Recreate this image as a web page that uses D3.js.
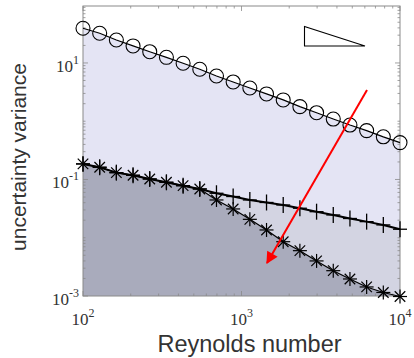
<!DOCTYPE html>
<html>
<head>
<meta charset="utf-8">
<script src="https://cdn.jsdelivr.net/npm/d3@7"></script>
<style>
  body { margin: 0; background: #fff; }
  svg { display: block; }
</style>
</head>
<body>
<div id="chart"></div>
<script>
// Reynolds numbers: 20 log-spaced samples between 1e2 and 1e4
const reynolds = d3.range(20).map(i => Math.pow(10, 2 + i * 2 / 19));

// Values
const circleVals = [39.4, 32.4, 24.8, 19.6, 15.6, 12.5, 9.9, 7.8, 5.98, 4.72,
  3.72, 2.94, 2.32, 1.78, 1.40, 1.09, 0.86, 0.69, 0.54, 0.43];
const plusVals = [0.185, 0.162, 0.131, 0.118, 0.102, 0.0895, 0.0783, 0.0687, 0.058, 0.051,
  0.0445, 0.0403, 0.0365, 0.0321, 0.028, 0.0246, 0.0214, 0.0189, 0.0166, 0.014];
const starVals = [0.185, 0.162, 0.131, 0.118, 0.102, 0.0895, 0.0783, 0.0687, 0.0445, 0.0312,
  0.0207, 0.0136, 0.00855, 0.0060, 0.0040, 0.00272, 0.00196, 0.00143, 0.00115, 0.00098];

const xTicks = [1e2, 1e3, 1e4];
const yTicks = [1e-3, 1e-1, 1e1];

const width = 414, height = 358;
const margin = { top: 6, right: 14, bottom: 62, left: 83 };

const svg = d3.select("#chart").append("svg")
  .attr("width", width)
  .attr("height", height);

const x = d3.scaleLog().domain([1e2, 1e4]).range([margin.left, width - margin.right]);
const y = d3.scaleLog().domain([1e-3, 95]).range([height - margin.bottom, margin.top]);

const y0 = height - margin.bottom;

// Filled areas
const area = vals => d3.area()
  .x((d, i) => x(reynolds[i]))
  .y0(y0)
  .y1(d => y(d))(vals);

svg.append("path").attr("d", area(circleVals)).attr("fill", "#e4e4f4");
svg.append("path").attr("d", area(plusVals)).attr("fill", "#d3d4e2");
svg.append("path").attr("d", area(starVals)).attr("fill", "#a9abbc");

// Axis frame
const x0 = margin.left, x1 = width - margin.right, yTop = margin.top;
svg.append("rect")
  .attr("x", x0).attr("y", yTop)
  .attr("width", x1 - x0).attr("height", y0 - yTop)
  .attr("fill", "none")
  .attr("stroke", "#8a8a8a")
  .attr("stroke-width", 1);

// Minor ticks (log), inside the frame
const xMinor = [];
for (let e = 2; e < 4; e++) for (let k = 1; k < 10; k++) xMinor.push(k * Math.pow(10, e));
xMinor.push(1e4);
const yMinor = [];
for (let e = -3; e < 2; e++) for (let k = 1; k < 10; k++) {
  const v = k * Math.pow(10, e);
  if (v <= 95) yMinor.push(v);
}

const tickG = svg.append("g").attr("stroke", "#8a8a8a").attr("stroke-width", 0.8);
xMinor.forEach(v => {
  const len = (Math.log10(v) % 1 === 0) ? 5 : 2.5;
  tickG.append("line").attr("x1", x(v)).attr("x2", x(v)).attr("y1", y0).attr("y2", y0 - len);
  tickG.append("line").attr("x1", x(v)).attr("x2", x(v)).attr("y1", yTop).attr("y2", yTop + len);
});
yMinor.forEach(v => {
  const len = yTicks.indexOf(v) >= 0 ? 5 : 2.5;
  tickG.append("line").attr("y1", y(v)).attr("y2", y(v)).attr("x1", x0).attr("x2", x0 + len);
  tickG.append("line").attr("y1", y(v)).attr("y2", y(v)).attr("x1", x1).attr("x2", x1 - len);
});

// Tick labels 10^n in serif
function powLabel(g, v, px, py, anchor) {
  const t = g.append("text")
    .attr("x", px).attr("y", py)
    .attr("text-anchor", anchor)
    .attr("font-family", "'Liberation Serif', 'Times New Roman', serif")
    .attr("font-size", 17)
    .attr("fill", "#333");
  t.append("tspan").text("10");
  t.append("tspan")
    .attr("dy", -8)
    .attr("font-size", 12)
    .text(Math.round(Math.log10(v)));
}
const lab = svg.append("g");
yTicks.forEach(v => powLabel(lab, v, x0 - 4, y(v) + 9, "end"));
xTicks.forEach(v => powLabel(lab, v, Math.min(x(v), 401), y0 + 29, "middle"));

// Lines
const line = d3.line().x((d, i) => x(reynolds[i])).y(d => y(d));

svg.append("path").attr("d", line(circleVals))
  .attr("fill", "none").attr("stroke", "#000").attr("stroke-width", 1.2);
svg.append("path").attr("d", line(plusVals))
  .attr("fill", "none").attr("stroke", "#000").attr("stroke-width", 2);
svg.append("path").attr("d", line(starVals))
  .attr("fill", "none").attr("stroke", "#000").attr("stroke-width", 1.2);

// Markers
svg.append("g").selectAll("circle")
  .data(circleVals).join("circle")
  .attr("cx", (d, i) => x(reynolds[i]))
  .attr("cy", d => y(d))
  .attr("r", 7)
  .attr("fill", "none")
  .attr("stroke", "#000")
  .attr("stroke-width", 1.1);

const plusG = svg.append("g").attr("stroke", "#000").attr("stroke-width", 1.3);
plusVals.forEach((d, i) => {
  const cx = x(reynolds[i]), cy = y(d);
  plusG.append("line").attr("x1", cx - 7).attr("x2", cx + 7).attr("y1", cy).attr("y2", cy);
  plusG.append("line").attr("x1", cx).attr("x2", cx).attr("y1", cy - 8).attr("y2", cy + 8);
});

const starG = svg.append("g").attr("stroke", "#000").attr("stroke-width", 1.2);
starVals.forEach((d, i) => {
  const cx = x(reynolds[i]), cy = y(d), r = 7;
  starG.append("line").attr("x1", cx).attr("x2", cx).attr("y1", cy - r).attr("y2", cy + r);
  starG.append("line").attr("x1", cx - r).attr("x2", cx + r).attr("y1", cy).attr("y2", cy);
  const dd = r * 0.75;
  starG.append("line").attr("x1", cx - dd).attr("x2", cx + dd).attr("y1", cy - dd).attr("y2", cy + dd);
  starG.append("line").attr("x1", cx - dd).attr("x2", cx + dd).attr("y1", cy + dd).attr("y2", cy - dd);
});

// Slope triangle
svg.append("path")
  .attr("d", "M304.5,26.5 L304.5,46 L365,46 Z")
  .attr("fill", "#fff")
  .attr("stroke", "#000")
  .attr("stroke-width", 1.1);

// Red arrow
const defs = svg.append("defs");
defs.append("marker")
  .attr("id", "arrowhead")
  .attr("viewBox", "0 0 10 10")
  .attr("refX", 9).attr("refY", 5)
  .attr("markerWidth", 7).attr("markerHeight", 6)
  .attr("markerUnits", "strokeWidth")
  .attr("orient", "auto")
  .append("path")
  .attr("d", "M0,0 L10,5 L0,10 Z")
  .attr("fill", "#ff0000");

svg.append("line")
  .attr("x1", 367).attr("y1", 90)
  .attr("x2", 267).attr("y2", 263)
  .attr("stroke", "#ff0000")
  .attr("stroke-width", 2)
  .attr("marker-end", "url(#arrowhead)");

// Axis titles
svg.append("text")
  .attr("x", (x0 + x1) / 2 + 8)
  .attr("y", 352)
  .attr("text-anchor", "middle")
  .attr("font-family", "'Liberation Sans', Arial, sans-serif")
  .attr("font-size", 23.5)
  .attr("fill", "#333")
  .text("Reynolds number");

svg.append("text")
  .attr("transform", "translate(26, 157) rotate(-90)")
  .attr("text-anchor", "middle")
  .attr("font-family", "'Liberation Sans', Arial, sans-serif")
  .attr("font-size", 21)
  .attr("fill", "#333")
  .text("uncertainty variance");
</script>
</body>
</html>
